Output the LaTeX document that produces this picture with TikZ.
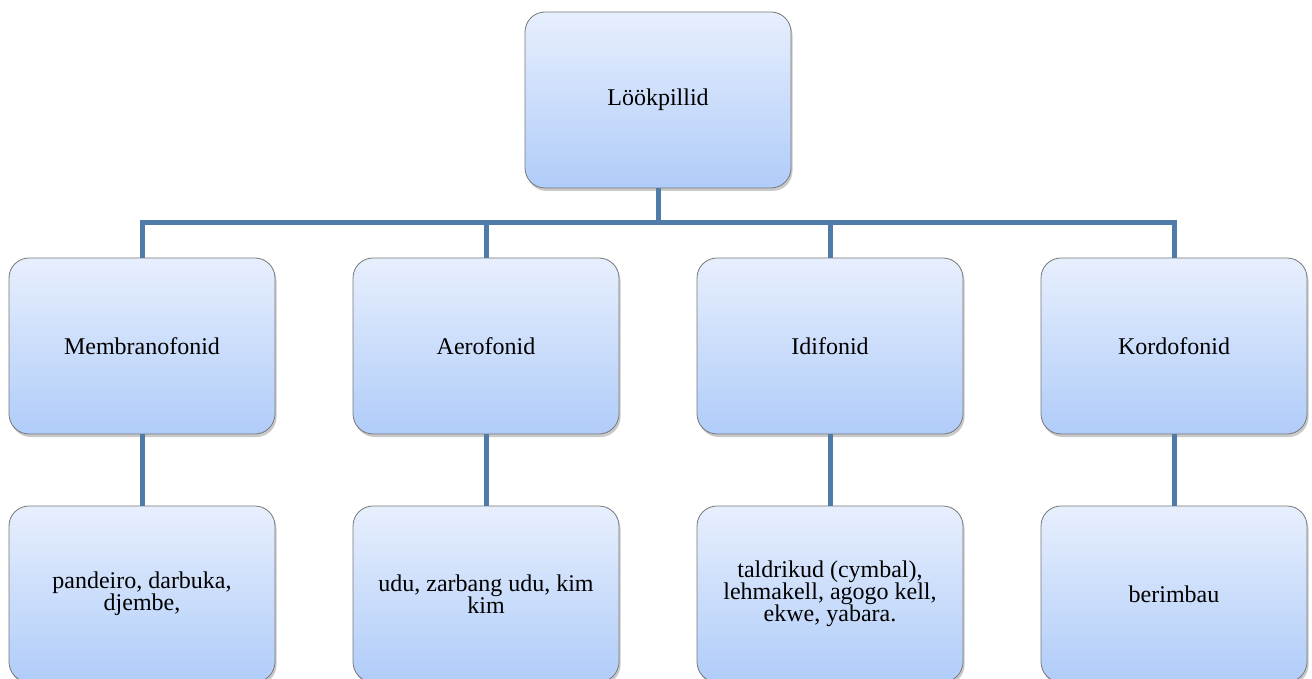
\documentclass[tikz,border=0pt]{standalone}
\usepackage{fontspec}
\setmainfont{Liberation Serif}
\usetikzlibrary{shadows}
\definecolor{linkblue}{RGB}{79,123,168}
\definecolor{boxtop}{RGB}{231,239,253}
\definecolor{boxbot}{RGB}{176,204,249}
\definecolor{boxline}{RGB}{120,120,120}
\tikzset{
  box/.style={rectangle, rounded corners=20pt, minimum width=266pt, minimum height=176pt,
    inner sep=0pt, draw=boxline, line width=0.8pt, top color=boxtop, bottom color=boxbot,
    drop shadow={shadow xshift=1.5pt, shadow yshift=-3pt, opacity=0.35, fill=black!60},
    align=center, font=\fontsize{24}{22}\selectfont},
  link/.style={draw=linkblue, line width=5pt}
}
\begin{document}
\begin{tikzpicture}[x=1pt,y=-1pt]
\useasboundingbox (0,0) rectangle (1312,679);
\coordinate (bus) at (658,223);
\node[box] (top) at (658,100) {Löökpillid};
\node[box] (m1) at (142,346) {Membranofonid};
\node[box] (m2) at (486,346) {Aerofonid};
\node[box] (m3) at (830,346) {Idifonid};
\node[box] (m4) at (1174,346) {Kordofonid};
\node[box] (b1) at (142,594) {pandeiro, darbuka,\\djembe,};
\node[box] (b2) at (486,594) {udu, zarbang udu, kim\\kim};
\node[box] (b3) at (830,594) {taldrikud (cymbal),\\lehmakell, agogo kell,\\ekwe, yabara.};
\node[box] (b4) at (1174,594) {berimbau};
\path[link] (top.south) -- (top.south |- bus);
\path[link] (m1.north) |- (bus) -| (m4.north);
\path[link] (m2.north) -- (m2.north |- bus);
\path[link] (m3.north) -- (m3.north |- bus);
\path[link] (m1.south) -- (b1.north);
\path[link] (m2.south) -- (b2.north);
\path[link] (m3.south) -- (b3.north);
\path[link] (m4.south) -- (b4.north);
\end{tikzpicture}
\end{document}
